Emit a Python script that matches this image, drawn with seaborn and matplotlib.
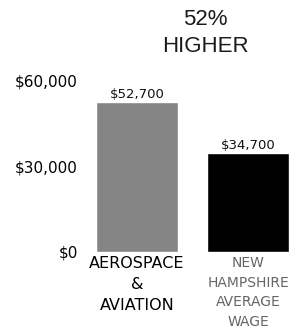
import numpy as np
import pandas as pd
import matplotlib
matplotlib.use("Agg")
import matplotlib.pyplot as plt
import seaborn as sns

# data
categories = ["AEROSPACE\n&\nAVIATION", "NEW\nHAMPSHIRE\nAVERAGE\nWAGE"]
wages = [52700, 34700]
wage_labels = ["$52,700", "$34,700"]
bar_colors = ["#858585", "#000000"]
cat_colors = ["#000000", "#666666"]
cat_sizes = [11.5, 10]
yticks = [0, 30000, 60000]
ytick_labels = ["$0", "$30,000", "$60,000"]

sns.set_style("white")
plt.rcParams['font.family'] = ['DejaVu Sans']

df = pd.DataFrame({"cat": categories, "wage": wages})

fig = plt.figure(figsize=(2.96, 3.32), dpi=100)
ax = fig.add_axes([85 / 296, 0.241, 211 / 296, 0.584])

sns.barplot(data=df, x="cat", y="wage", hue="cat", palette=bar_colors,
            width=0.74, legend=False, ax=ax)

ax.set_xlim(-0.468, 1.432)
ax.set_ylim(0, 68000)
ax.set_yticks(yticks)
ax.set_yticklabels(ytick_labels, fontsize=11, color='#000000')
ax.tick_params(axis='y', length=0, pad=5)
ax.set_xticks([])
ax.set_xlabel("")
ax.set_ylabel("")
sns.despine(ax=ax, left=True, bottom=True)

# value labels above bars
for i, (v, lab) in enumerate(zip(wages, wage_labels)):
    ax.text(i, v + 1300, lab, ha='center', va='baseline', fontsize=9.5,
            color='#111111')

# category labels below bars
for i, c in enumerate(categories):
    ax.text(i, -1500, c, ha='center', va='top', fontsize=cat_sizes[i],
            color=cat_colors[i], linespacing=1.5)

fig.text(205 / 296, 1 - 33 / 332, "52%\nHIGHER", ha='center', va='center',
         fontsize=16, color='#1a1a1a', linespacing=1.35,
         family=['Liberation Sans', 'DejaVu Sans'])

fig.savefig("out.png", dpi=100)
